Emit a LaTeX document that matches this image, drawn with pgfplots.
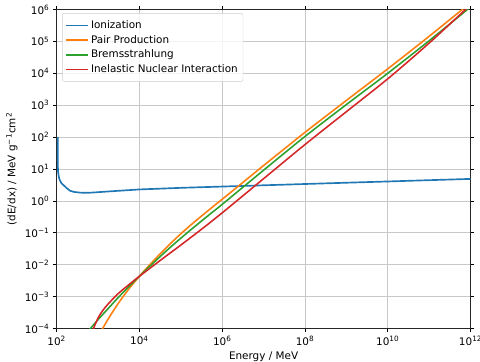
\documentclass[border=0pt]{standalone}
\usepackage{fontspec}
\setmainfont{DejaVu Sans}
\usepackage{pgfplots}
\pgfplotsset{compat=1.18}
\definecolor{c0}{HTML}{1F77B4}
\definecolor{c1}{HTML}{FF7F0E}
\definecolor{c2}{HTML}{2CA02C}
\definecolor{c3}{HTML}{D62728}
\definecolor{gridc}{HTML}{C8C8C8}
\definecolor{legc}{HTML}{CCCCCC}
\begin{document}
\fontsize{10}{12}\selectfont
\begin{tikzpicture}
\begin{axis}[
  at={(0,0)}, anchor=south west,
  scale only axis, width=397.3pt, height=306.3pt,
  xmode=log, ymode=log, log basis x=10, log basis y=10,
  xmin=1e2, xmax=1e12, ymin=1e-4, ymax=1e6,
  xtick={1e2,1e4,1e6,1e8,1e10,1e12},
  xticklabels={10\textsuperscript{2},10\textsuperscript{4},10\textsuperscript{6},10\textsuperscript{8},10\textsuperscript{10},10\textsuperscript{12}},
  ytick={1e-4,1e-3,1e-2,1e-1,1,1e1,1e2,1e3,1e4,1e5,1e6},
  yticklabels={10\textsuperscript{−4},10\textsuperscript{−3},10\textsuperscript{−2},10\textsuperscript{−1},10\textsuperscript{0},10\textsuperscript{1},10\textsuperscript{2},10\textsuperscript{3},10\textsuperscript{4},10\textsuperscript{5},10\textsuperscript{6}},
  xminorticks=false,
  tick label style={font=\fontsize{10}{12}\selectfont},
  tick align=outside, major tick length=3.5pt, minor tick length=2pt,
  every tick/.style={black, line width=0.8pt},
  minor tick style={line width=0.6pt},
  axis line style={line width=0.8pt, black!85},
  grid=major, major grid style={gridc, line width=0.8pt},
  xlabel={Energy / MeV},
  ylabel={(dE/dx) / MeV g\textsuperscript{−1}cm\textsuperscript{2}},
  label style={font=\fontsize{10}{12}\selectfont},
  legend cell align=left,
  legend style={at={(0,1)}, anchor=north west, xshift=5.2pt, yshift=-3.5pt,
    draw=legc, rounded corners=2pt, fill=white, fill opacity=0.8, text opacity=1,
    font=\fontsize{10}{12}\selectfont, row sep=1pt, inner xsep=3pt, inner ysep=5pt},
  legend image code/.code={\draw[#1, line width=1.6pt] (0pt,0pt) -- (21pt,0pt);},
]
\addplot[c0, line width=1.6pt] coordinates {
(106,100) (106.2,40) (106.6,18) (107.2,11) (108,8.5) (110,6.8) (115,5.1) (120,4.4)
(130,3.6) (145,3.16) (170,2.6) (209,2.09) (260,1.92) (363,1.82) (500,1.80) (700,1.82)
(1122,1.9) (2000,2.0) (1e4,2.29) (1e5,2.57) (1e6,2.82) (1e7,3.09) (1e8,3.39)
(1e9,3.72) (1e10,4.07) (1e11,4.47) (1e12,4.90)};
\addlegendentry{Ionization}
\addplot[c1, line width=1.5pt, smooth] coordinates {
(1000,5.623e-5) (1778,2.042e-4) (3162,6.457e-4) (5623,1.778e-3) (1e4,4.365e-3)
(17780,1e-2) (31620,2.188e-2) (56230,4.624e-2) (1e5,9.333e-2) (177800,0.1799)
(316200,0.3365) (562300,0.6194) (1e6,1.127) (3.162e6,3.802) (1e7,12.88)
(3.162e7,42.66) (1e8,141.3) (1e9,1413) (1e10,13800) (1e11,144500) (1e12,1.622e6)};
\addlegendentry{Pair Production}
\addplot[c2, line width=1.5pt, smooth] coordinates {
(562.3,7.943e-5) (1000,1.905e-4) (1778,4.315e-4) (3162,9.772e-4) (5623,2.089e-3)
(1e4,4.365e-3) (17780,8.913e-3) (31620,1.799e-2) (56230,3.548e-2) (1e5,6.792e-2)
(177800,0.1274) (316200,0.2344) (562300,0.4295) (1e6,0.7816) (1e7,9.183)
(1e8,104.7) (1e9,1047) (1e10,1e4) (1e11,104700) (1e12,1.202e6)};
\addlegendentry{Bremsstrahlung}
\addplot[c3, line width=1.5pt, smooth] coordinates {
(707.9,6.761e-5) (794.3,1.072e-4) (1000,2.138e-4) (1259,3.467e-4) (1778,6.026e-4)
(3162,1.288e-3) (5623,2.399e-3) (1e4,4.365e-3) (31620,1.355e-2) (1e5,4.140e-2)
(316200,0.1294) (1e6,0.4236) (1e7,4.977) (1e8,58.48) (1e9,626.6) (1e10,6714)
(1e11,88510) (1e12,1.403e6)};
\addlegendentry{Inelastic Nuclear Interaction}
\end{axis}
\pgfresetboundingbox
\useasboundingbox (-54.4pt,-31.2pt) rectangle (406.4pt,315.4pt);
\end{tikzpicture}
\end{document}
